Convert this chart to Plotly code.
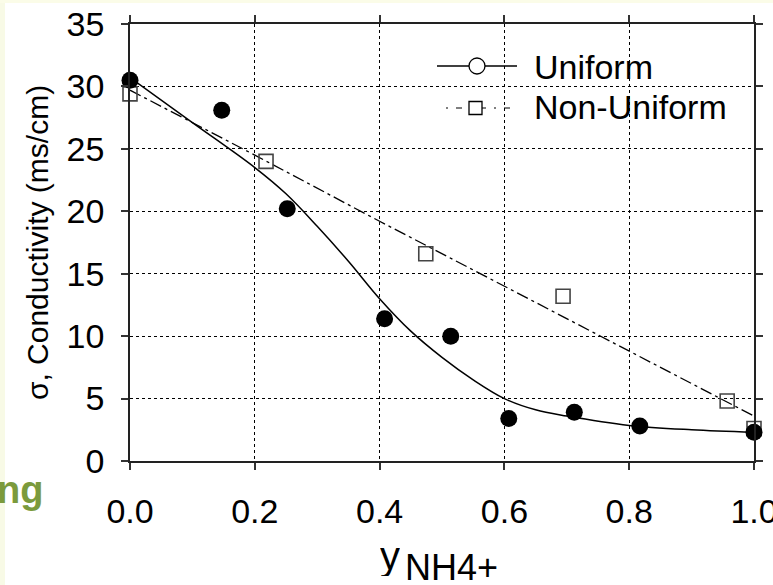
import plotly.graph_objects as go

# ---- data ----
uniform_x = [0.0, 0.147, 0.252, 0.408, 0.514, 0.607, 0.712, 0.817, 1.0]
uniform_y = [30.5, 28.1, 20.2, 11.4, 10.0, 3.4, 3.9, 2.8, 2.3]

nonuni_x = [0.0, 0.218, 0.474, 0.694, 0.957, 1.0]
nonuni_y = [29.4, 24.0, 16.6, 13.2, 4.8, 2.6]

ufit_x = [0.0, 0.1, 0.2, 0.25, 0.3, 0.35, 0.4, 0.45, 0.5, 0.55, 0.6, 0.65, 0.7, 0.8, 0.9, 1.0]
ufit_y = [30.7, 27.1, 23.5, 21.4, 18.8, 16.0, 13.0, 10.4, 8.3, 6.5, 5.0, 4.1, 3.6, 2.85, 2.5, 2.3]

nfit_x = [0.0, 0.2, 0.4, 0.6, 0.8, 1.0]
nfit_y = [29.7, 24.5, 19.2, 14.0, 8.8, 3.6]

x_ticks = [0.0, 0.2, 0.4, 0.6, 0.8, 1.0]
y_ticks = [0, 5, 10, 15, 20, 25, 30, 35]

W, H = 773, 585
ML, MR, MT, MB = 130, 19, 24, 124
PW, PH = W - ML - MR, H - MT - MB


def px(x):
    return (x - ML) / PW


def py(y):
    return (H - MB - y) / PH


FONT = "Liberation Sans, Arial, sans-serif"

fig = go.Figure()
fig.add_trace(go.Scatter(x=nfit_x, y=nfit_y, mode="lines",
                         line=dict(color="black", width=1.3, dash="12px,4px,3px,4px"),
                         showlegend=False))
fig.add_trace(go.Scatter(x=ufit_x, y=ufit_y, mode="lines", line_shape="spline",
                         line=dict(color="black", width=1.5), showlegend=False))
fig.add_trace(go.Scatter(x=nonuni_x, y=nonuni_y, mode="markers", cliponaxis=False,
                         marker=dict(symbol="square-open", size=14, color="#444",
                                     line=dict(width=1.6)),
                         showlegend=False))
fig.add_trace(go.Scatter(x=uniform_x, y=uniform_y, mode="markers", cliponaxis=False,
                         marker=dict(symbol="circle", size=17, color="black"),
                         showlegend=False))

shapes = []
# cream edges
shapes.append(dict(type="rect", xref="paper", yref="paper", x0=px(0), x1=px(5), y0=py(H), y1=py(0),
                   fillcolor="#F8FAE6", line_width=0, layer="below"))
shapes.append(dict(type="rect", xref="paper", yref="paper", x0=px(0), x1=px(W), y0=py(3), y1=py(0),
                   fillcolor="#FBFCE8", line_width=0, layer="below"))
# legend symbols
shapes.append(dict(type="line", xref="paper", yref="paper", x0=px(437), x1=px(517), y0=py(66), y1=py(66),
                   line=dict(color="black", width=1.3)))
shapes.append(dict(type="circle", xref="paper", yref="paper", x0=px(469), x1=px(485), y0=py(58), y1=py(74),
                   fillcolor="white", line=dict(color="black", width=1.3)))
shapes.append(dict(type="line", xref="paper", yref="paper", x0=px(446), x1=px(518), y0=py(108), y1=py(108),
                   line=dict(color="black", width=1.2, dash="2px,8px,6px,8px")))
shapes.append(dict(type="rect", xref="paper", yref="paper", x0=px(469), x1=px(482), y0=py(101.5), y1=py(114.5),
                   fillcolor="white", line=dict(color="black", width=1.3)))

annotations = [
    dict(text="Uniform", xref="paper", yref="paper", x=px(532), y=py(67), xanchor="left", yanchor="middle",
         showarrow=False, font=dict(size=34, family=FONT, color="black")),
    dict(text="Non-Uniform", xref="paper", yref="paper", x=px(532), y=py(107), xanchor="left", yanchor="middle",
         showarrow=False, font=dict(size=34, family=FONT, color="black")),
    dict(text="y", xref="paper", yref="paper", x=px(401), y=py(556), xanchor="right", yanchor="middle",
         height=40, borderpad=0,
         showarrow=False, font=dict(size=40, family=FONT, color="black")),
    dict(text="NH4+", xref="paper", yref="paper", x=px(404), y=py(567), xanchor="left", yanchor="middle",
         height=28, borderpad=0,
         showarrow=False, font=dict(size=36, family=FONT, color="black")),
    dict(text="<b>ng</b>", xref="paper", yref="paper", x=px(45), y=py(490), xanchor="right", yanchor="middle",
         showarrow=False, font=dict(size=38, family=FONT, color="#7B9A3C")),
]

axis_common = dict(
    showline=True, linecolor="#222", linewidth=1.6, mirror="ticks",
    ticks="outside", ticklen=7, tickwidth=1.6, tickcolor="#333",
    showgrid=True, gridcolor="black", gridwidth=1.3, griddash="dot",
    zeroline=False, automargin=False, ticklabeloverflow="allow",
    tickfont=dict(size=34, family=FONT, color="black"),
)

fig.update_layout(
    width=W, height=H,
    margin=dict(l=ML, r=MR, t=MT, b=MB, pad=0, autoexpand=False),
    paper_bgcolor="white", plot_bgcolor="white",
    shapes=shapes, annotations=annotations, showlegend=False,
    xaxis=dict(range=[0, 1], tickvals=x_ticks, ticktext=[f"{v:.1f}" for v in x_ticks],
               ticklabelstandoff=12, **axis_common),
    yaxis=dict(range=[0, 35], tickvals=y_ticks, ticklabelstandoff=10,
               title=dict(text="σ, Conductivity (ms/cm)", font=dict(size=30, family=FONT, color="black"),
                          standoff=9),
               **axis_common),
)

fig.write_html("out.html")
